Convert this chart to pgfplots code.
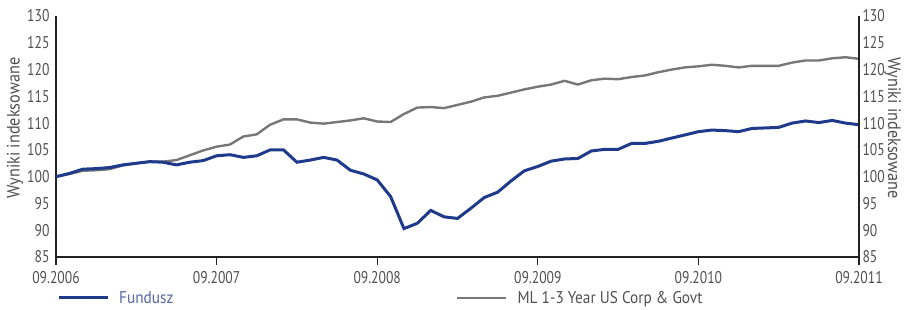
\documentclass[border=0pt]{standalone}
\usepackage{fontspec}
\setmainfont{PT Sans}[FakeStretch=0.8]
\newfontfamily\widefont{PT Sans}[FakeStretch=0.9]
\usepackage{pgfplots}
\pgfplotsset{compat=1.18}
\usepackage{pgfplotstable}
\definecolor{fund}{HTML}{1F3A8A}
\definecolor{fundtxt}{HTML}{5565A5}
\definecolor{bench}{HTML}{777777}
\definecolor{txt}{HTML}{505050}
\definecolor{axl}{HTML}{222222}

\pgfplotstableread{
m fund bench
0 100.0 100.0
1 100.6 100.5
2 101.4 101.1
3 101.5 101.2
4 101.7 101.4
5 102.2 102.1
6 102.5 102.5
7 102.8 102.8
8 102.7 102.8
9 102.2 103.1
10 102.7 104.0
11 103.0 104.9
12 103.9 105.6
13 104.1 106.0
14 103.6 107.5
15 103.9 107.9
16 105.0 109.7
17 105.0 110.7
18 102.7 110.7
19 103.1 110.1
20 103.6 109.9
21 103.1 110.2
22 101.2 110.5
23 100.5 110.9
24 99.4 110.3
25 96.3 110.2
26 90.3 111.7
27 91.3 112.9
28 93.7 113.0
29 92.5 112.8
30 92.2 113.4
31 94.1 114.0
32 96.1 114.8
33 97.1 115.1
34 99.2 115.7
35 101.1 116.3
36 101.9 116.8
37 102.9 117.2
38 103.3 117.9
39 103.4 117.2
40 104.8 118.0
41 105.1 118.3
42 105.1 118.2
43 106.2 118.6
44 106.2 118.9
45 106.6 119.5
46 107.2 120.0
47 107.8 120.4
48 108.4 120.6
49 108.7 120.9
50 108.6 120.7
51 108.4 120.4
52 109.0 120.7
53 109.1 120.7
54 109.2 120.7
55 110.0 121.3
56 110.4 121.7
57 110.1 121.7
58 110.5 122.1
59 110.0 122.3
60 109.7 122.0
}\data

\begin{document}
\begin{tikzpicture}[font=\fontsize{17bp}{20bp}\selectfont]
\begin{axis}[
  scale only axis, width=803bp, height=241bp,
  at={(0,0)}, anchor=south west,
  xmin=0, xmax=60, ymin=85, ymax=130,
  axis x line*=bottom, axis y line*=left,
  xtick={0,12,24,36,48,60},
  xticklabels={09.2006,09.2007,09.2008,09.2009,09.2010,09.2011},
  ytick={85,90,...,130},
  tick align=outside,
  major tick length=8bp,
  xtick style={axl, line width=1.3bp},
  ytick style={draw=none},
  x axis line style={axl, line width=2.2bp, -},
  y axis line style={axl, line width=1.4bp, -},
  tick label style={txt, /pgf/number format/assume math mode=true},
  yticklabel style={xshift=5bp},
  xticklabel style={yshift=-3bp},
  ylabel={Wyniki indeksowane},
  ylabel style={txt, font=\widefont\fontsize{18bp}{20bp}\selectfont,
    at={(axis description cs:-0.051,0.535)}, anchor=center},
  legend columns=2,
  legend style={at={(axis description cs:0.00125,-0.17)}, anchor=west,
    draw=none, fill=none, inner sep=0pt,
    font=\widefont\fontsize{17bp}{20bp}\selectfont,
    /tikz/every odd column/.append style={column sep=8bp}},
  legend cell align=left,
  legend image code/.code={\draw[#1] (0bp,0bp) -- (49bp,0bp);},
  clip=false,
]
\addlegendimage{fund, line width=3bp}
\addlegendentry{\textcolor{fundtxt}{\makebox[335bp][l]{Fundusz}}}
\addlegendimage{bench, line width=2.4bp}
\addlegendentry{\textcolor{txt}{ML 1-3 Year US Corp \& Govt}}
\addplot[bench, line width=2.4bp, forget plot] table[x=m, y=bench] {\data};
\addplot[fund, line width=3bp, forget plot] table[x=m, y=fund] {\data};
\end{axis}
\begin{axis}[
  scale only axis, width=803bp, height=241bp,
  at={(0,0)}, anchor=south west,
  xmin=0, xmax=60, ymin=85, ymax=130,
  axis x line=none, axis y line*=right,
  ytick={85,90,...,130},
  major tick length=0bp,
  ytick style={draw=none},
  y axis line style={axl, line width=1.4bp, -},
  tick label style={txt, /pgf/number format/assume math mode=true},
  ylabel={Wyniki indeksowane},
  ylabel style={txt, font=\widefont\fontsize{18bp}{20bp}\selectfont,
    at={(axis description cs:1.042,0.535)}, anchor=center, rotate=180},
]
\end{axis}
\pgfresetboundingbox
\path (-56bp,-53bp) rectangle (848bp,257bp);
\end{tikzpicture}
\end{document}
